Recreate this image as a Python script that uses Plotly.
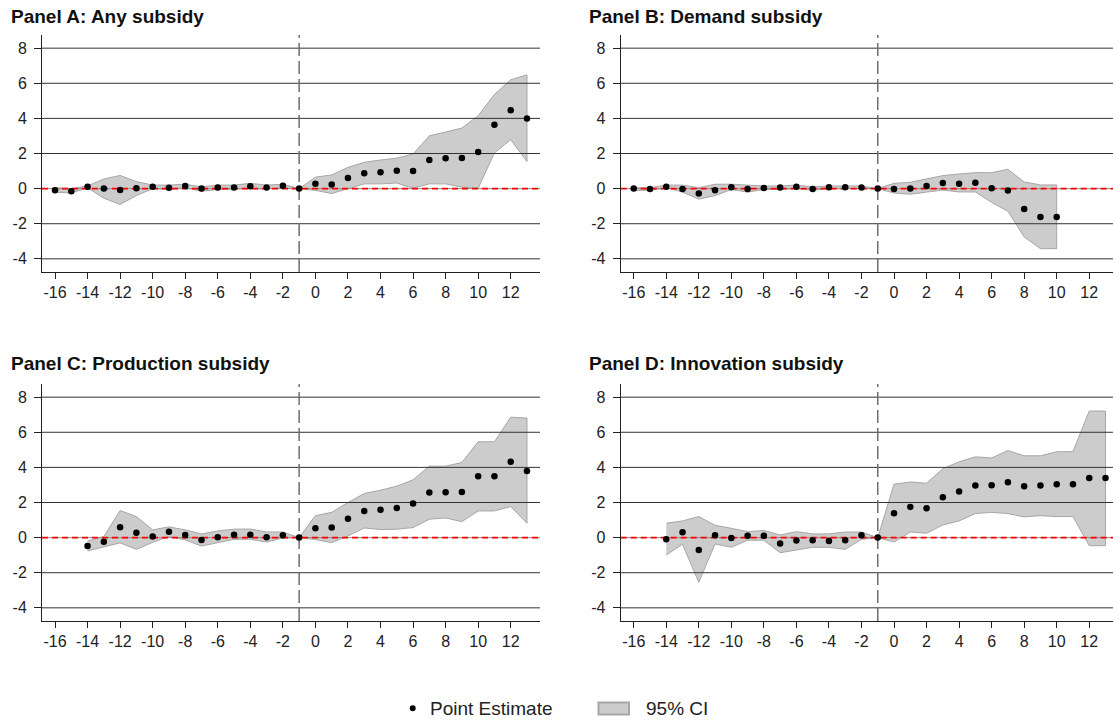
import plotly.graph_objects as go

# Event-time periods relative to the subsidy (period -1 is the reference)
periods_a = list(range(-16, 14))
periods_b = list(range(-16, 11))
periods_c = list(range(-14, 14))
periods_d = list(range(-14, 14))

# Panel A: Any subsidy
est_a = [-0.1, -0.15, 0.1, 0.0, -0.08, 0.02, 0.1, 0.05, 0.15, 0.0, 0.06, 0.07, 0.13, 0.07, 0.17, 0.0,
         0.27, 0.23, 0.61, 0.87, 0.93, 1.02, 1.0, 1.63, 1.73, 1.74, 2.09, 3.64, 4.47, 4.0]
hi_a = [0.05, 0.0, 0.15, 0.55, 0.75, 0.4, 0.2, 0.2, 0.25, 0.1, 0.2, 0.2, 0.3, 0.2, 0.25, 0.0,
        0.65, 0.78, 1.21, 1.5, 1.63, 1.73, 1.97, 3.01, 3.22, 3.45, 4.15, 5.36, 6.2, 6.48]
lo_a = [-0.2, -0.25, 0.05, -0.55, -0.9, -0.4, 0.0, -0.05, 0.05, -0.15, -0.05, -0.02, 0.0, -0.02, 0.05, 0.0,
        -0.1, -0.28, 0.0, 0.27, 0.27, 0.32, 0.02, 0.27, 0.27, 0.08, 0.02, 2.03, 2.79, 1.54]

# Panel B: Demand subsidy
est_b = [0.0, -0.02, 0.11, -0.02, -0.28, -0.1, 0.08, -0.02, 0.04, 0.06, 0.1, -0.02, 0.08, 0.08, 0.06, 0.0,
         -0.02, 0.0, 0.15, 0.32, 0.28, 0.34, 0.02, -0.11, -1.16, -1.61, -1.61]
hi_b = [0.05, 0.05, 0.2, 0.2, 0.05, 0.25, 0.25, 0.2, 0.15, 0.15, 0.2, 0.1, 0.15, 0.15, 0.15, 0.0,
        0.3, 0.36, 0.55, 0.74, 0.83, 0.91, 0.91, 1.1, 0.38, 0.21, 0.21]
lo_b = [-0.1, -0.1, 0.05, -0.2, -0.6, -0.4, -0.05, -0.2, -0.05, -0.05, 0.0, -0.1, 0.0, 0.0, 0.0, 0.0,
        -0.25, -0.32, -0.19, -0.08, -0.19, -0.19, -0.78, -1.29, -2.75, -3.42, -3.42]

# Panel C: Production subsidy
est_c = [-0.48, -0.23, 0.59, 0.27, 0.06, 0.34, 0.15, -0.13, 0.02, 0.17, 0.17, 0.02, 0.13, 0.0,
         0.53, 0.57, 1.08, 1.52, 1.58, 1.69, 1.94, 2.57, 2.59, 2.6, 3.5, 3.5, 4.32, 3.8]
hi_c = [-0.19, 0.06, 1.54, 1.2, 0.44, 0.61, 0.44, 0.21, 0.38, 0.48, 0.49, 0.32, 0.32, 0.0,
        1.25, 1.44, 2.0, 2.51, 2.7, 2.93, 3.29, 4.07, 4.07, 4.28, 5.46, 5.46, 6.86, 6.81]
lo_c = [-0.76, -0.51, -0.3, -0.67, -0.27, 0.06, -0.13, -0.48, -0.29, -0.1, -0.1, -0.25, -0.02, 0.0,
        -0.11, -0.29, 0.1, 0.55, 0.46, 0.48, 0.57, 1.05, 1.12, 0.91, 1.52, 1.52, 1.77, 0.82]

# Panel D: Innovation subsidy
est_d = [-0.1, 0.3, -0.7, 0.13, -0.02, 0.11, 0.11, -0.34, -0.17, -0.15, -0.19, -0.15, 0.13, 0.0,
         1.39, 1.75, 1.67, 2.3, 2.62, 2.97, 2.98, 3.16, 2.93, 2.97, 3.04, 3.04, 3.4, 3.4]
hi_d = [0.82, 0.95, 1.2, 0.7, 0.53, 0.34, 0.4, 0.15, 0.34, 0.21, 0.21, 0.32, 0.32, 0.0,
        3.04, 3.17, 3.1, 3.92, 4.32, 4.6, 4.54, 4.96, 4.66, 4.66, 4.89, 4.9, 7.21, 7.21]
lo_d = [-0.99, -0.38, -2.55, -0.36, -0.55, -0.15, -0.15, -0.86, -0.7, -0.55, -0.55, -0.67, -0.1, 0.0,
        -0.25, 0.32, 0.25, 0.72, 0.95, 1.37, 1.44, 1.37, 1.18, 1.25, 1.2, 1.2, -0.46, -0.46]

titles = ["Panel A: Any subsidy", "Panel B: Demand subsidy",
          "Panel C: Production subsidy", "Panel D: Innovation subsidy"]
y_ticks = [-4, -2, 0, 2, 4, 6, 8]
x_ticks = list(range(-16, 13, 2))
y_tick_text = [str(v) for v in y_ticks]
x_tick_text = [str(v) for v in x_ticks]
event_line = -1

W, H = 1113, 722
FONT = "Liberation Sans, Arial, sans-serif"
Y_RANGE = [-4.75, 8.75]
X_RANGE_LEFT = [-16.8, 13.8]
X_RANGE_RIGHT = [-16.8, 13.46]

# plot areas in pixels: (left, right, top, bottom)
boxes = [(42, 540, 35, 272), (620.7, 1113, 35, 272),
         (42, 540, 384, 621), (620.7, 1113, 384, 621)]
x_ranges = [X_RANGE_LEFT, X_RANGE_RIGHT, X_RANGE_LEFT, X_RANGE_RIGHT]
title_pos = [(9.3, 16.3), (587.0, 16.3), (9.3, 363.5), (587.0, 363.5)]

panels = [(periods_a, est_a, lo_a, hi_a), (periods_b, est_b, lo_b, hi_b),
          (periods_c, est_c, lo_c, hi_c), (periods_d, est_d, lo_d, hi_d)]

fig = go.Figure()
layout = dict(width=W, height=H, margin=dict(l=0, r=0, t=0, b=0),
              paper_bgcolor="white", plot_bgcolor="white", showlegend=False,
              font=dict(family=FONT, color="#222222"))
annotations = []
shapes = []

for i, ((per, est, lo, hi), box, xr) in enumerate(zip(panels, boxes, x_ranges)):
    n = "" if i == 0 else str(i + 1)
    xa, ya = "x" + n, "y" + n
    left, right, top, bottom = box

    # confidence band
    fig.add_trace(go.Scatter(
        x=per + per[::-1], y=hi + lo[::-1], xaxis=xa, yaxis=ya,
        fill="toself", fillcolor="#cccccc", mode="lines",
        line=dict(color="#a6a6a6", width=1), hoverinfo="skip"))

    # horizontal reference lines at each y tick, drawn over the band
    gx, gy = [], []
    for t in y_ticks:
        if t == 0:
            continue
        gx += [xr[0], xr[1], None]
        gy += [t, t, None]
    fig.add_trace(go.Scatter(x=gx, y=gy, xaxis=xa, yaxis=ya, mode="lines",
                             line=dict(color="#333333", width=1), hoverinfo="skip"))
    fig.add_trace(go.Scatter(x=[xr[0], xr[1]], y=[0, 0], xaxis=xa, yaxis=ya, mode="lines",
                             line=dict(color="#8c8c8c", width=1), hoverinfo="skip"))
    fig.add_trace(go.Scatter(x=[xr[0], xr[1]], y=[0, 0], xaxis=xa, yaxis=ya, mode="lines",
                             line=dict(color="#ff0000", width=1.6, dash="6px,4px"),
                             hoverinfo="skip"))
    # vertical event line
    fig.add_trace(go.Scatter(x=[event_line, event_line], y=Y_RANGE, xaxis=xa, yaxis=ya,
                             mode="lines", line=dict(color="#6e6e6e", width=1.5, dash="13px,5px"),
                             hoverinfo="skip"))
    # point estimates
    fig.add_trace(go.Scatter(x=per, y=est, xaxis=xa, yaxis=ya, mode="markers",
                             marker=dict(color="black", size=6.5), name="Point Estimate"))

    axis_common = dict(showgrid=False, zeroline=False, showline=True, linecolor="#222222",
                       linewidth=1, ticks="outside", tickcolor="#222222",
                       tickfont=dict(family=FONT, size=16, color="#222222"), fixedrange=True)
    layout["xaxis" + n] = dict(axis_common, domain=[left / W, right / W], range=xr,
                               anchor=ya, tickvals=x_ticks, ticktext=x_tick_text, ticklen=6)
    layout["yaxis" + n] = dict(axis_common, domain=[1 - bottom / H, 1 - top / H], range=Y_RANGE,
                               anchor=xa, tickvals=y_ticks, ticktext=y_tick_text, ticklen=7,
                               ticklabelstandoff=4)

    tx, ty = title_pos[i]
    annotations.append(dict(text=titles[i], x=tx / W, y=1 - ty / H, xref="paper", yref="paper",
                            xanchor="left", yanchor="middle", showarrow=False,
                            font=dict(family=FONT, size=19, color="#111111", weight="bold")))

# legend row
legend_y = 708.3
shapes.append(dict(type="circle", xref="paper", yref="paper",
                   x0=(412.7 - 3) / W, x1=(412.7 + 3) / W,
                   y0=1 - (legend_y + 3) / H, y1=1 - (legend_y - 3) / H,
                   fillcolor="black", line=dict(color="black", width=0)))
shapes.append(dict(type="rect", xref="paper", yref="paper",
                   x0=598.5 / W, x1=629 / W, y0=1 - 714.5 / H, y1=1 - 702.5 / H,
                   fillcolor="#cccccc", line=dict(color="#a6a6a6", width=2)))
annotations.append(dict(text="Point Estimate", x=427.5 / W, y=1 - legend_y / H, xref="paper",
                        yref="paper", xanchor="left", yanchor="middle", showarrow=False,
                        font=dict(family=FONT, size=19, color="#222222")))
annotations.append(dict(text="95% CI", x=643.5 / W, y=1 - legend_y / H, xref="paper",
                        yref="paper", xanchor="left", yanchor="middle", showarrow=False,
                        font=dict(family=FONT, size=19, color="#222222")))

layout["annotations"] = annotations
layout["shapes"] = shapes
fig.update_layout(**layout)
fig.write_html("out.html")
